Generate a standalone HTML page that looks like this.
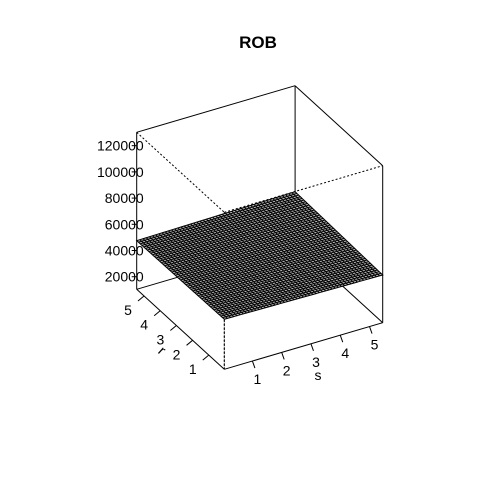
<!DOCTYPE html>
<html><head><meta charset="utf-8"><style>
html,body{margin:0;padding:0;background:#fff;}
svg{display:block;font-family:"Liberation Sans",Arial,sans-serif;}
</style></head><body>
<svg id="chart" width="480" height="480" viewBox="0 0 480 480">
<text x="258" y="48" text-anchor="middle" font-size="17" font-weight="bold">ROB</text>
<g id="box-back"></g>
<g id="surface"></g>
<g id="box-front"></g>
<g id="axes"></g>
</svg>
<script>
const sTicks = [1, 2, 3, 4, 5];
const rTicks = [1, 2, 3, 4, 5];
const zTicks = [20000, 40000, 60000, 80000, 100000, 120000];
const zTickLabels = ["20000", "40000", "60000", "80000", "100000", "120000"];
// surface corner values: [s-min r-min, s-max r-min, s-min r-max, s-max r-max]
const zCorners = [48600, 46800, 47500, 49300];
const sRange = [0.04, 5.45];
const rRange = [0.04, 5.45];
const zRange = [10400, 130200];

const NS = "http://www.w3.org/2000/svg";
const O = [224.3, 369.3], SV = [158.4, -46.6], RV = [-87.6, -80], ZH = 157;
function proj(s, r, z) {
  const fs = (s - sRange[0]) / (sRange[1] - sRange[0]);
  const fr = (r - rRange[0]) / (rRange[1] - rRange[0]);
  const fz = (z - zRange[0]) / (zRange[1] - zRange[0]);
  return [O[0] + fs * SV[0] + fr * RV[0], O[1] + fs * SV[1] + fr * RV[1] - fz * ZH];
}
function mk(tag, attrs, parent) {
  const e = document.createElementNS(NS, tag);
  for (const k in attrs) e.setAttribute(k, attrs[k]);
  parent.appendChild(e);
  return e;
}
function line(p, q, parent, dash, name) {
  const l = mk("line", {x1: p[0], y1: p[1], x2: q[0], y2: q[1], stroke: "#000", "stroke-width": 1}, parent);
  if (dash) l.setAttribute("stroke-dasharray", "2,2");
  
  
  return l;
}
const s0 = sRange[0], s1 = sRange[1], r0 = rRange[0], r1 = rRange[1], z0 = zRange[0], z1 = zRange[1];
const back = document.getElementById("box-back"), front = document.getElementById("box-front");
line(proj(s0, r1, z1), proj(s0, r0, z1), back, true, "box-edge-hidden");
line(proj(s0, r0, z1), proj(s1, r0, z1), back, true, "box-edge-hidden");
line(proj(s0, r0, z1), proj(s0, r0, z0), back, true, "box-edge-hidden");
line(proj(s0, r1, z0), proj(s1, r1, z0), back, false, "box-edge");
line(proj(s1, r1, z0), proj(s1, r0, z0), back, false, "box-edge");
line(proj(s1, r1, z0), proj(s1, r1, z1), back, false, "box-edge");

const surf = document.getElementById("surface");
const N = 50;
function zAt(fs, fr) {
  return zCorners[0] * (1 - fs) * (1 - fr) + zCorners[1] * fs * (1 - fr) + zCorners[2] * (1 - fs) * fr + zCorners[3] * fs * fr;
}
let d = "";
for (let i = N - 1; i >= 0; i--) for (let j = N - 1; j >= 0; j--) {
  const pts = [[i, j], [i + 1, j], [i + 1, j + 1], [i, j + 1]].map(([a, b]) => {
    const fs = a / N, fr = b / N;
    return proj(s0 + fs * (s1 - s0), r0 + fr * (r1 - r0), zAt(fs, fr));
  });
  d += "M" + pts.map(p => p[0].toFixed(2) + "," + p[1].toFixed(2)).join("L") + "Z";
}
const sp = mk("path", {d: d, fill: "#bbb", stroke: "#000", "stroke-width": 1}, surf);



// dashed hidden front vertical below surface
line(proj(s0, r0, zCorners[0]), proj(s0, r0, z0), front, true, "box-edge-hidden");
line(proj(s0, r0, z0), proj(s1, r0, z0), front, false, "box-edge");
line(proj(s0, r0, z0), proj(s0, r1, z0), front, false, "box-edge");
line(proj(s0, r1, z0), proj(s0, r1, z1), front, false, "box-edge");
line(proj(s0, r1, z1), proj(s1, r1, z1), front, false, "box-edge");
line(proj(s1, r1, z1), proj(s1, r0, z1), front, false, "box-edge");
line(proj(s1, r0, z1), proj(s1, r0, z0), front, false, "box-edge");

const ax = document.getElementById("axes");
function txt(x, y, str, anchor, name, extra) {
  const t = mk("text", {x: x, y: y, "font-size": 14, "text-anchor": anchor}, ax);
  if (extra) for (const k in extra) t.setAttribute(k, extra[k]);
  t.textContent = str;
  
  
}
sTicks.forEach(v => {
  const p = proj(v, r0, z0);
  line(p, [p[0] + 2.5, p[1] + 7], ax, false, "s-tick");
  txt(p[0] + 5, p[1] + 23, String(v), "middle", "s-tick-label");
});
rTicks.forEach(v => {
  const pp = proj(s0, v, z0);
  line(pp, [pp[0] - 6, pp[1] + 5], ax, false, "r-tick");
  txt(pp[0] - 16, pp[1] + 19, String(v), "middle", "r-tick-label");
});
zTicks.forEach((v, i) => {
  const p = proj(s0, r1, v);
  line(p, [p[0] - 5, p[1]], ax, false, "z-tick");
  txt(p[0] + 7, p[1] + 5, zTickLabels[i], "end", "z-tick-label");
});
txt(318, 380, "s", "middle", "s-axis-title");
txt(159, 354, "r", "middle", "r-axis-title", {transform: "rotate(42 159 354)"});
</script>
</body></html>
